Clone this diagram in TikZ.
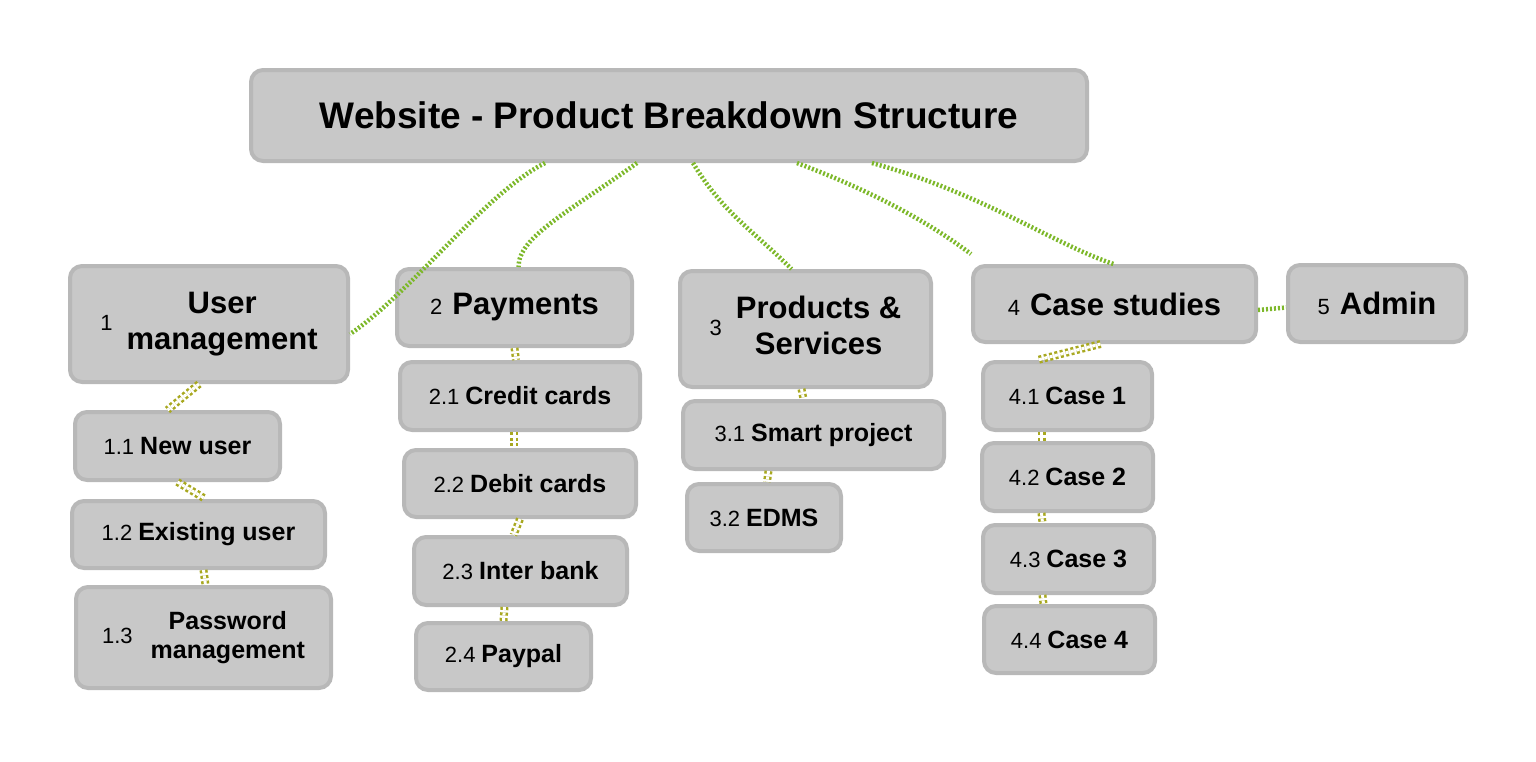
\documentclass[tikz,border=0pt]{standalone}
\usepackage{fontspec}
\setmainfont{Liberation Sans}
\begin{document}
\begin{tikzpicture}[x=1pt,y=-1pt,
 box/.style={draw=boxb,fill=boxf,line width=4pt,rounded corners=12pt,inner sep=0pt},
 conn/.style={draw=lgreen,line width=4.5pt,dash pattern=on 2pt off 2pt},
 sub/.style={draw=olivec,line width=2.5pt,double=white,double distance=3pt,dash pattern=on 3pt off 2.5pt}]
\definecolor{boxf}{HTML}{C8C8C8}
\definecolor{boxb}{HTML}{B8B8B8}
\definecolor{lgreen}{HTML}{7DB82A}
\definecolor{olivec}{HTML}{A8A820}
\useasboundingbox (0,0) rectangle (1536,761);
\newcommand{\bx}[6]{\node[box,minimum width={#4-#2},minimum height={#5-#3}] (#1) at ({(#2+#4)/2},{(#3+#5)/2}) {#6};}
\newcommand{\lone}[2]{{\fontsize{22}{26}\selectfont #1}\hspace{10pt}{\fontsize{31}{38}\selectfont\bfseries #2}}
\newcommand{\ltwo}[2]{{\fontsize{22}{26}\selectfont #1}\hspace{6pt}{\fontsize{25}{32}\selectfont\bfseries #2}}
\bx{root}{251}{70}{1087}{161}{\fontsize{37}{44}\selectfont\bfseries Website - Product Breakdown Structure}
\bx{n1}{70}{266}{348}{382}{{\fontsize{22}{26}\selectfont 1}\hspace{14pt}{\fontsize{31}{39}\selectfont\bfseries\begin{tabular}{@{}c@{}}User\\[-3pt]management\end{tabular}}}
\bx{n2}{397}{269}{632}{346}{\lone{2}{Payments}}
\bx{n3}{680}{271}{931}{387}{{\fontsize{22}{26}\selectfont 3}\hspace{14pt}{\fontsize{31}{39}\selectfont\bfseries\begin{tabular}{@{}c@{}}Products \&\\[-3pt]Services\end{tabular}}}
\bx{n4}{973}{266}{1256}{342}{\lone{4}{Case studies}}
\bx{n5}{1288}{265}{1466}{342}{\lone{5}{Admin}}
\bx{n11}{75}{412}{280}{480}{\ltwo{1.1}{New user}}
\bx{n12}{72}{501}{325}{568}{\ltwo{1.2}{Existing user}}
\bx{n13}{76}{587}{331}{688}{{\fontsize{22}{26}\selectfont 1.3}\hspace{18pt}{\fontsize{25}{31}\selectfont\bfseries\begin{tabular}{@{}c@{}}Password\\[-2pt]management\end{tabular}}}
\bx{n21}{400}{362}{640}{430}{\ltwo{2.1}{Credit cards}}
\bx{n22}{404}{450}{636}{517}{\ltwo{2.2}{Debit cards}}
\bx{n23}{414}{537}{627}{605}{\ltwo{2.3}{Inter bank}}
\bx{n24}{416}{623}{591}{690}{\ltwo{2.4}{Paypal}}
\bx{n31}{683}{401}{944}{469}{\ltwo{3.1}{Smart project}}
\bx{n32}{687}{484}{841}{551}{\ltwo{3.2}{EDMS}}
\bx{n41}{983}{362}{1152}{430}{\ltwo{4.1}{Case 1}}
\bx{n42}{982}{443}{1153}{511}{\ltwo{4.2}{Case 2}}
\bx{n43}{983}{525}{1154}{593}{\ltwo{4.3}{Case 3}}
\bx{n44}{984}{606}{1155}{673}{\ltwo{4.4}{Case 4}}
% green connectors
\draw[conn] ([xshift=-124pt]root.south) .. controls +(-60,30) and +(60,-40) .. ([yshift=-10pt]n1.east);
\draw[conn] ([xshift=-32pt]root.south) .. controls +(-70,50) and +(0,-30) .. ([xshift=4pt]n2.north);
\draw[conn] ([xshift=24pt]root.south) .. controls +(30,50) and +(-40,-40) .. ([xshift=-14pt]n3.north);
\draw[conn] ([xshift=128pt]root.south) .. controls +(80,30) and +(-40,-30) .. ([yshift=10pt]n4.north west);
\draw[conn] ([xshift=203pt]root.south) .. controls +(110,30) and +(-60,-20) .. ([xshift=-1pt]n4.north);
\draw[conn] ([yshift=-6pt]n4.east) -- ([yshift=-4pt]n5.west);
% olive sub connectors
\draw[sub] ([xshift=-10pt]n1.south) -- ([xshift=-10pt]n11.north);
\draw[sub] (n11.south) -- ([xshift=7pt]n12.north);
\draw[sub] ([xshift=5pt]n12.south) -- ([xshift=2pt]n13.north);
\draw[sub] (n2.south) -- ([xshift=-4pt]n21.north);
\draw[sub] ([xshift=-6pt]n21.south) -- ([xshift=-6pt]n22.north);
\draw[sub] (n22.south) -- ([xshift=-7pt]n23.north);
\draw[sub] ([xshift=-16pt]n23.south) -- (n24.north);
\draw[sub] ([xshift=-4pt]n3.south) -- ([xshift=-10pt]n31.north);
\draw[sub] ([xshift=-45pt]n31.south) -- ([xshift=3pt]n32.north);
\draw[sub] ([xshift=-14pt]n4.south) -- ([xshift=-30pt]n41.north);
\draw[sub] ([xshift=-26pt]n41.south) -- ([xshift=-26pt]n42.north);
\draw[sub] ([xshift=-26pt]n42.south) -- ([xshift=-26pt]n43.north);
\draw[sub] ([xshift=-26pt]n43.south) -- ([xshift=-26pt]n44.north);
\end{tikzpicture}
\end{document}
